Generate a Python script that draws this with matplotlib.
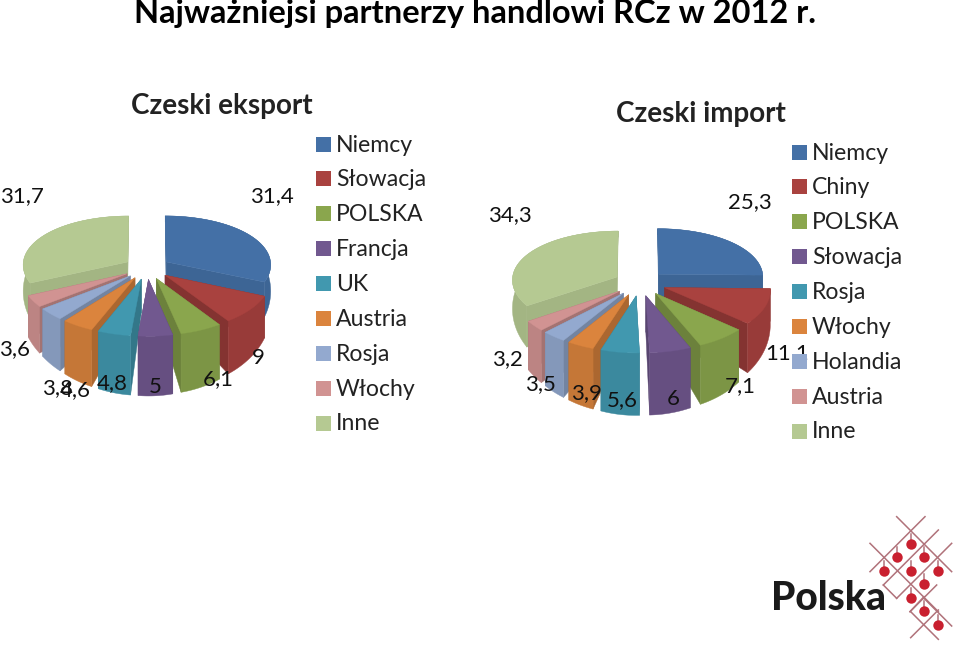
import numpy as np
import matplotlib
matplotlib.use("Agg")
import matplotlib.pyplot as plt
from matplotlib.patches import Polygon, Rectangle

# data
eksport_labels = ["Niemcy", "Słowacja", "POLSKA", "Francja", "UK", "Austria", "Rosja", "Włochy", "Inne"]
eksport_values = [31.4, 9, 6.1, 5, 4.8, 4.6, 3.8, 3.6, 31.7]
import_labels = ["Niemcy", "Chiny", "POLSKA", "Słowacja", "Rosja", "Włochy", "Holandia", "Austria", "Inne"]
import_values = [25.3, 11.1, 7.1, 6, 5.6, 3.9, 3.5, 3.2, 34.3]

colors = ["#4470a6", "#a9423f", "#8aa64d", "#71588f", "#4198af", "#db843d", "#93a9cf", "#d19392", "#b5c992"]

# where the value labels sit
eksport_pos = [(272, 196), (258, 358), (218, 379), (155, 387), (112, 383), (75, 390), (58, 388), (15, 349), (22, 196)]
import_pos = [(750, 202), (787, 353), (740, 386), (673, 399), (622, 400), (586, 393), (540, 384), (507, 359), (510, 215)]

LABEL_FONT = "Lato"


def shade(c, f):
    r = np.array(matplotlib.colors.to_rgb(c)) * f
    return tuple(r)


def screen(cx, cy, X, Y):
    # squashed view of the pie, a bit bigger towards the viewer
    return cx + 105 * X * (1 + 0.05 * Y), cy + 51 * Y * (1 + 0.08 * Y)


def depth(Y, d0):
    return np.clip(d0 + 26 * Y, 6, None)


def pie3d(ax, cx, cy, values, explode, d0):
    fr = np.cumsum([0] + list(values)) / np.sum(values) * 2 * np.pi
    order = np.argsort([-np.cos((fr[i] + fr[i + 1]) / 2) for i in range(len(values))])
    for i in order:
        a0, a1 = fr[i], fr[i + 1]
        mid = (a0 + a1) / 2
        ox, oy = explode * np.sin(mid), -explode * np.cos(mid)
        t = np.linspace(a0, a1, 60)
        X = ox + np.sin(t)
        Y = oy - np.cos(t)
        sx, sy = screen(cx, cy, X, Y)
        ax0, ay0 = screen(cx, cy, ox, oy)
        d_rim = depth(Y, d0)
        d_apex = depth(np.array([oy]), d0)[0]
        c = colors[i]
        # radial walls, the big rear slices are lit more
        f = 0.78 if np.cos(mid) < 0 else 0.9
        for k in (0, -1):
            pts = [(ax0, ay0), (sx[k], sy[k]), (sx[k], sy[k] + d_rim[k]), (ax0, ay0 + d_apex)]
            ax.add_patch(Polygon(pts, fc=shade(c, f), ec=shade(c, f), lw=0.3))
        # outer wall
        pts = list(zip(sx, sy)) + list(zip(sx[::-1], (sy + d_rim)[::-1]))
        ax.add_patch(Polygon(pts, fc=shade(c, 0.9), ec=shade(c, 0.9), lw=0.3))
        # top
        pts = [(ax0, ay0)] + list(zip(sx, sy))
        ax.add_patch(Polygon(pts, fc=c, ec=c, lw=0.3))


def legend(ax, x, ys, labels):
    for y, lab, c in zip(ys, labels, colors):
        ax.add_patch(Rectangle((x, y - 7.5), 15, 15, fc=c, ec="none", zorder=5))
        ax.text(x + 20, y + 1, lab, fontsize=16.6, family=LABEL_FONT, color="#222222", va="center", ha="left", zorder=6)


def value_labels(ax, values, pos):
    for v, (x, y) in zip(values, pos):
        txt = f"{v:g}".replace(".", ",")
        ax.text(x, y, txt, fontsize=16, family=LABEL_FONT, color="#111111", ha="center", va="center", zorder=4)


fig = plt.figure(figsize=(9.6, 6.49), dpi=100)
ax = fig.add_axes([0, 0, 1, 1])
ax.set_xlim(0, 960)
ax.set_ylim(649, 0)
ax.axis("off")

ax.text(475, 14, "Najważniejsi partnerzy handlowi RCz w 2012 r.", fontsize=23.5, family=LABEL_FONT,
        fontweight="bold", ha="center", va="center", color="black")
ax.text(222, 106, "Czeski eksport", fontsize=20, family=LABEL_FONT, fontweight="bold", ha="center", va="center", color="#222222")
ax.text(701, 114, "Czeski import", fontsize=20, family=LABEL_FONT, fontweight="bold", ha="center", va="center", color="#222222")

pie3d(ax, 147, 268, eksport_values, 0.22, 28)
pie3d(ax, 640, 283, import_values, 0.25, 30)

value_labels(ax, eksport_values, eksport_pos)
value_labels(ax, import_values, import_pos)

legend(ax, 316, np.linspace(144, 423, 9), eksport_labels)
legend(ax, 792, np.linspace(152, 431, 9), import_labels)

# logo
def lz(x, y):
    return 750 + x / 3, 500 + y / 3


lattice = [((525, 50), (360, 215)), ((565, 90), (400, 255)), ((605, 130), (440, 295)), ((560, 255), (480, 335)),
           ((565, 330), (482, 413)), ((522, 290), (480, 335)),
           ((440, 50), (605, 215)), ((360, 130), (565, 335)), ((400, 255), (440, 295)), ((482, 335), (565, 418)),
           ((522, 295), (605, 378))]
for p, q in lattice:
    x0, y0 = lz(*p)
    x1, y1 = lz(*q)
    ax.plot([x0, x1], [y0, y1], color="#b0727a", lw=1.1)
dots = [(482, 132), (441, 172), (522, 172), (401, 213), (482, 213), (563, 213), (522, 253), (482, 294), (522, 334), (563, 374)]
for p in dots:
    x0, y0 = lz(*p)
    ax.plot([x0, x0], [y0 - 10, y0], color="#b0727a", lw=1.1)
    ax.plot(x0, y0, "o", color="#c9202f", ms=7.5, mew=0)
ax.text(771, 598, "Polska", fontsize=28, family="Lato", fontweight="black", color="#1a1a1a", ha="left", va="center")

fig.savefig("out.png", dpi=100)
